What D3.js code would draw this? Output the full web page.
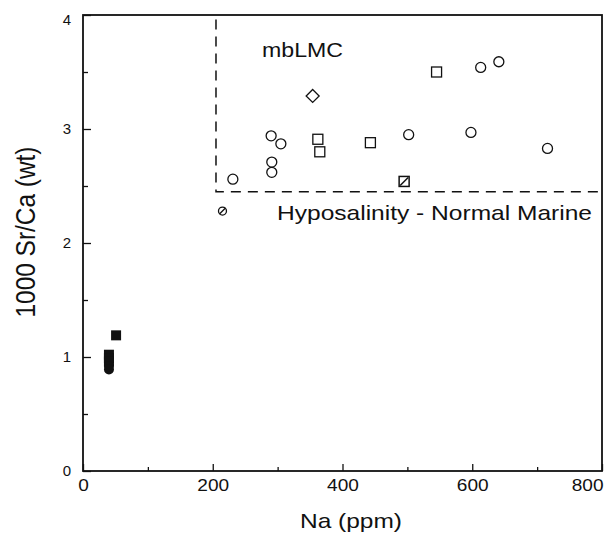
<!DOCTYPE html>
<html>
<head>
<meta charset="utf-8">
<script src="https://cdn.jsdelivr.net/npm/d3@7"></script>
<style>
  body { margin: 0; background: #fff; }
  text { font-family: "Liberation Sans", Arial, sans-serif; fill: #111; }
</style>
</head>
<body>
<div id="main"></div>
<script>
// values
const circleNa = [231, 290, 305, 291, 291, 502, 598, 613, 641, 716];
const circleSrCa = [2.56, 2.94, 2.87, 2.71, 2.62, 2.95, 2.97, 3.54, 3.59, 2.83];
const squareNa = [362, 365, 443, 545];
const squareSrCa = [2.91, 2.80, 2.88, 3.50];
const diamondNa = [354];
const diamondSrCa = [3.29];
const slashSquareNa = [495];
const slashSquareSrCa = [2.54];
const slashCircleNa = [215];
const slashCircleSrCa = [2.28];
const filledSquareNa = [51, 40, 40, 40];
const filledSquareSrCa = [1.19, 1.02, 0.99, 0.96];
const filledCircleNa = [40, 40];
const filledCircleSrCa = [0.92, 0.89];

const xTicks = [0, 200, 400, 600, 800];
const yTicks = [0, 1, 2, 3, 4];
const xMinor = [100, 300, 500, 700];
const yMinor = [0.5, 1.5, 2.5, 3.5];

// mbLMC field boundary
const fieldNa = [205, 800];
const fieldSrCa = [2.45, 3.96];

const w = 608, h = 535;
const x = d3.scaleLinear().domain([0, 800]).range([83, 602]);
const y = d3.scaleLinear().domain([0, 4]).range([471, 15]);

const svg = d3.select('#main').append('svg')
    .attr('width', w)
    .attr('height', h);

// frame
svg.append('rect')
    .attr('x', x(0)).attr('y', y(4))
    .attr('width', x(800) - x(0)).attr('height', y(0) - y(4))
    .attr('fill', 'none').attr('stroke', '#111').attr('stroke-width', 1.8);

// axes with inward ticks
const xAxis = svg.append('g').attr('transform', `translate(0,${y(0)})`)
    .call(d3.axisBottom(x).tickValues(xTicks).tickSize(-7).tickPadding(9).tickFormat(d3.format('d')));
const xAxisMinor = svg.append('g').attr('transform', `translate(0,${y(0)})`)
    .call(d3.axisBottom(x).tickValues(xMinor).tickSize(-4).tickFormat(''));
const yAxis = svg.append('g').attr('transform', `translate(${x(0)},0)`)
    .call(d3.axisLeft(y).tickValues(yTicks).tickSize(-8).tickPadding(12).tickFormat(d3.format('d')));
const yAxisMinor = svg.append('g').attr('transform', `translate(${x(0)},0)`)
    .call(d3.axisLeft(y).tickValues(yMinor).tickSize(-5).tickFormat(''));

[xAxis, xAxisMinor, yAxis, yAxisMinor].forEach(g => {
    g.select('.domain').remove();
    g.selectAll('line').attr('stroke', '#111').attr('stroke-width', 1.3);
    g.selectAll('text').style('font-family', '"Liberation Sans", Arial, sans-serif').attr('fill', '#111');
});

xAxis.selectAll('text')
    .style('font-size', '16px')
    .attr('textLength', d => String(d).length * 10.6)
    .attr('lengthAdjust', 'spacingAndGlyphs')
    .filter(d => d === 800)
    .attr('text-anchor', 'end')
    .attr('x', 1);

yAxis.selectAll('text')
    .style('font-size', '15px')
    .filter(d => d === 4)
    .attr('dy', '0.6em');

// axis titles
svg.append('text')
    .attr('x', 300).attr('y', 528)
    .attr('textLength', 102).attr('lengthAdjust', 'spacingAndGlyphs')
    .style('font-size', '21px')
    .text('Na (ppm)');

svg.append('text')
    .attr('transform', 'translate(35,232) rotate(-90)')
    .attr('text-anchor', 'middle')
    .attr('textLength', 171).attr('lengthAdjust', 'spacingAndGlyphs')
    .style('font-size', '28px')
    .text('1000 Sr/Ca (wt)');

// dashed field boundary
svg.append('path')
    .attr('d', `M${x(fieldNa[0])},${y(fieldSrCa[1])} L${x(fieldNa[0])},${y(fieldSrCa[0])} L${x(fieldNa[1])},${y(fieldSrCa[0])}`)
    .attr('fill', 'none').attr('stroke', '#111').attr('stroke-width', 1.5)
    .attr('stroke-dasharray', '10,7');

svg.append('text')
    .attr('x', 262).attr('y', 57)
    .attr('textLength', 81).attr('lengthAdjust', 'spacingAndGlyphs')
    .style('font-size', '20px')
    .text('mbLMC');

svg.append('text')
    .attr('x', 277).attr('y', 220)
    .attr('textLength', 315).attr('lengthAdjust', 'spacingAndGlyphs')
    .style('font-size', '21px')
    .text('Hyposalinity - Normal Marine');

// open circles
svg.append('g').selectAll('circle')
    .data(d3.zip(circleNa, circleSrCa))
    .enter().append('circle')
    .attr('cx', d => x(d[0])).attr('cy', d => y(d[1]))
    .attr('r', 5)
    .attr('fill', 'none').attr('stroke', '#111').attr('stroke-width', 1.3);

// open squares
svg.append('g').selectAll('rect')
    .data(d3.zip(squareNa, squareSrCa))
    .enter().append('rect')
    .attr('x', d => x(d[0]) - 5).attr('y', d => y(d[1]) - 5)
    .attr('width', 10).attr('height', 10)
    .attr('fill', 'none').attr('stroke', '#111').attr('stroke-width', 1.3);

// open diamond
svg.append('g').selectAll('path')
    .data(d3.zip(diamondNa, diamondSrCa))
    .enter().append('path')
    .attr('transform', d => `translate(${x(d[0])},${y(d[1])})`)
    .attr('d', 'M0,-6.5 L6.5,0 L0,6.5 L-6.5,0 Z')
    .attr('fill', 'none').attr('stroke', '#111').attr('stroke-width', 1.3);

// slashed square
const ss = svg.append('g').selectAll('g')
    .data(d3.zip(slashSquareNa, slashSquareSrCa))
    .enter().append('g')
    .attr('transform', d => `translate(${x(d[0])},${y(d[1])})`);
ss.append('rect').attr('x', -5).attr('y', -5).attr('width', 10).attr('height', 10)
    .attr('fill', 'none').attr('stroke', '#111').attr('stroke-width', 1.5);
ss.append('line').attr('x1', -4).attr('y1', 4).attr('x2', 4).attr('y2', -4)
    .attr('stroke', '#111').attr('stroke-width', 1.5);

// slashed circle
const sc = svg.append('g').selectAll('g')
    .data(d3.zip(slashCircleNa, slashCircleSrCa))
    .enter().append('g')
    .attr('transform', d => `translate(${x(d[0])},${y(d[1])})`);
sc.append('circle').attr('r', 4)
    .attr('fill', 'none').attr('stroke', '#111').attr('stroke-width', 1.3);
sc.append('line').attr('x1', -3).attr('y1', 3).attr('x2', 3).attr('y2', -3)
    .attr('stroke', '#111').attr('stroke-width', 1.3);

// filled symbols
svg.append('g').selectAll('rect')
    .data(d3.zip(filledSquareNa, filledSquareSrCa))
    .enter().append('rect')
    .attr('x', d => x(d[0]) - 5).attr('y', d => y(d[1]) - 5)
    .attr('width', 10).attr('height', 10)
    .attr('fill', '#111');

svg.append('g').selectAll('circle')
    .data(d3.zip(filledCircleNa, filledCircleSrCa))
    .enter().append('circle')
    .attr('cx', d => x(d[0])).attr('cy', d => y(d[1]))
    .attr('r', 5)
    .attr('fill', '#111');
</script>
</body>
</html>
